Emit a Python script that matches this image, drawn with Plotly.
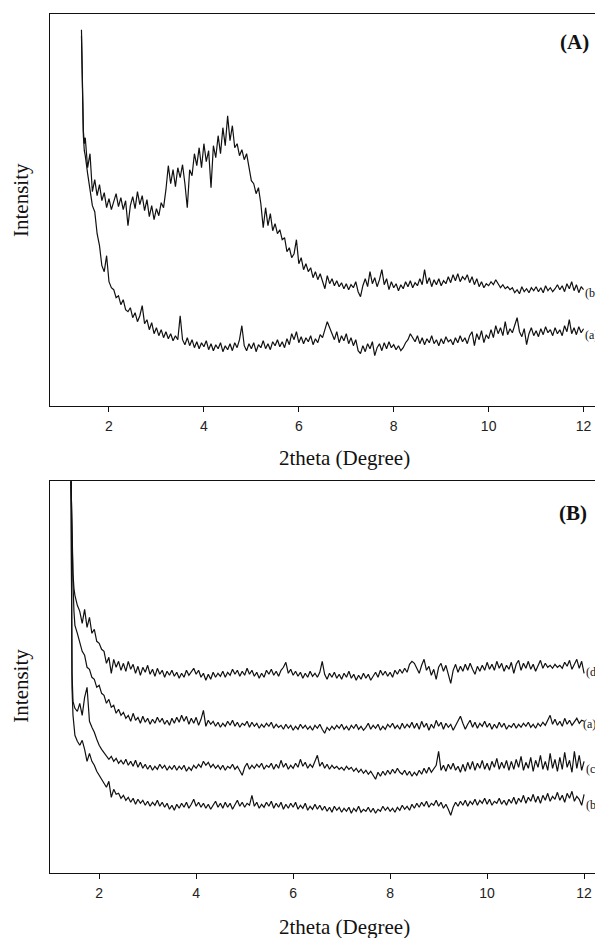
import numpy as np
import plotly.graph_objects as go

# 2theta grid (degree): a few points on the low-angle spike, then 0.05 steps
two_theta = [1.42, 1.44, 1.46, 1.48] + list(np.round(1.50 + 0.05 * np.arange(211), 2))

# panel (A) intensities, arbitrary units
A_b = [376, 320, 275, 262,
       268, 238, 252, 214, 226, 210, 221, 205, 213, 198, 207, 196, 204, 212, 199, 208, 196, 205, 180, 200,
       209, 197, 214, 201, 210, 195, 206, 189, 200, 186, 197, 190, 203, 198, 216, 240, 222, 236, 219, 238,
       228, 241, 222, 198, 236, 230, 252, 240, 258, 238, 262, 244, 255, 218, 260, 248, 270, 252, 278, 260,
       290, 265, 280, 258, 262, 250, 256, 246, 252, 238, 225, 222, 212, 218, 202, 178, 198, 180, 192, 175,
       182, 172, 176, 166, 168, 154, 158, 148, 152, 166, 142, 148, 136, 142, 134, 138, 128, 134, 126, 132,
       124, 117, 130, 122, 127, 120, 125, 119, 123, 117, 122, 116, 121, 118, 124, 114, 109, 120, 127, 119,
       134, 122, 128, 119, 126, 136, 121, 127, 116, 124, 118, 122, 115, 121, 117, 124, 119, 125, 118, 123,
       120, 127, 121, 136, 122, 128, 119, 126, 121, 127, 120, 125, 122, 129, 123, 131, 125, 132, 124, 129,
       126, 131, 123, 129, 121, 127, 119, 124, 118, 122, 120, 124, 121, 126, 122, 118, 121, 117, 119, 116,
       118, 113, 116, 112, 119, 114, 117, 113, 118, 115, 119, 114, 118, 113, 120, 115, 118, 114, 117, 121,
       116, 120, 114, 122, 117, 124, 115, 121, 113, 119, 116]
A_a = [370, 310, 270, 255,
       250, 232, 218, 200, 194, 172, 160, 140, 134, 150, 124, 118, 116, 108, 110, 101, 106, 96, 94, 98,
       88, 93, 84, 90, 100, 82, 86, 76, 83, 72, 78, 70, 76, 68, 74, 67, 72, 65, 70, 66,
       90, 66, 61, 68, 60, 66, 58, 64, 57, 63, 59, 65, 56, 62, 55, 61, 57, 63, 54, 60,
       56, 62, 55, 63, 58, 66, 80, 60, 55, 62, 57, 63, 54, 61, 58, 65, 57, 62, 56, 64,
       60, 66, 59, 64, 58, 67, 61, 72, 66, 74, 63, 69, 62, 68, 64, 70, 61, 67, 63, 71,
       68, 76, 84, 78, 72, 66, 74, 63, 70, 65, 72, 62, 68, 60, 66, 55, 52, 60, 54, 62,
       57, 64, 50, 58, 62, 55, 63, 57, 64, 58, 61, 56, 60, 55, 58, 63, 66, 72, 68, 64,
       70, 62, 68, 61, 67, 63, 70, 62, 66, 60, 67, 62, 69, 64, 66, 61, 68, 63, 70, 64,
       68, 62, 70, 74, 60, 72, 66, 75, 63, 71, 67, 76, 68, 80, 72, 78, 70, 84, 71, 77,
       73, 80, 88, 74, 69, 77, 61, 72, 78, 70, 75, 69, 77, 71, 79, 73, 76, 70, 78, 72,
       76, 70, 80, 74, 86, 72, 78, 71, 79, 73, 77]

# panel (B) intensities, arbitrary units
B_d = [392, 330, 300, 285,
       278, 268, 262, 250, 264, 246, 256, 240, 244, 232, 230, 224, 222, 210, 216, 200, 214, 206, 212, 203,
       210, 202, 212, 204, 209, 200, 207, 198, 206, 201, 208, 199, 204, 197, 205, 199, 203, 196, 202, 198,
       203, 197, 201, 195, 200, 196, 203, 198, 201, 205, 199, 203, 196, 200, 193, 199, 194, 201, 196, 200,
       197, 202, 196, 201, 198, 204, 199, 203, 197, 202, 198, 205, 199, 203, 197, 201, 195, 200, 196, 203,
       199, 204, 198, 202, 197, 203, 206, 211, 200, 204, 198, 202, 197, 201, 195, 200, 196, 202, 197, 200,
       196, 201, 212, 199, 194, 200, 196, 201, 195, 199, 194, 200, 196, 202, 195, 199, 193, 198, 194, 200,
       195, 199, 193, 197, 201, 196, 203, 198, 202, 197, 201, 196, 203, 199, 204, 200, 205, 201, 209, 212,
       210, 205, 200, 208, 214, 203, 207, 198, 204, 194, 206, 210, 202, 208, 199, 190, 203, 209, 201, 207,
       202, 209, 203, 210, 204, 199, 207, 202, 208, 203, 211, 204, 209, 203, 212, 205, 210, 202, 208, 204,
       211, 200, 209, 213, 203, 210, 205, 212, 204, 209, 202, 208, 213, 205, 210, 206, 208, 205, 209, 206,
       208, 205, 211, 207, 213, 204, 210, 214, 205, 212, 200]
B_a = [392, 320, 290, 262,
       248, 240, 230, 222, 218, 206, 204, 196, 194, 186, 188, 180, 178, 170, 174, 166, 168, 160, 164, 158,
       161, 155, 158, 152, 160, 153, 156, 150, 157, 151, 155, 149, 154, 150, 156, 151, 155, 149, 153, 148,
       155, 150, 156, 151, 158, 152, 157, 149, 155, 150, 156, 148, 154, 163, 147, 153, 149, 152, 147, 151,
       146, 150, 147, 152, 148, 153, 147, 151, 146, 150, 148, 152, 146, 151, 147, 150, 145, 149, 146, 150,
       147, 151, 145, 149, 146, 148, 144, 149, 145, 148, 143, 147, 144, 149, 145, 148, 144, 147, 143, 148,
       145, 149, 144, 140, 146, 143, 147, 144, 148, 145, 149, 144, 147, 143, 148, 145, 149, 144, 147, 143,
       146, 150, 144, 148, 145, 149, 143, 147, 144, 149, 146, 150, 145, 148, 144, 150, 145, 149, 146, 151,
       145, 150, 144, 152, 146, 150, 143, 149, 145, 153, 147, 151, 144, 150, 146, 149, 143, 148, 152, 157,
       150, 144, 149, 153, 146, 151, 145, 150, 147, 152, 146, 150, 144, 149, 145, 151, 146, 150, 144, 148,
       146, 150, 145, 149, 146, 150, 147, 151, 146, 149, 145, 150, 147, 151, 148, 153, 158, 149, 154, 148,
       152, 147, 155, 149, 153, 148, 151, 155, 150, 153, 152]
B_c = [392, 200, 172, 168,
       165, 162, 170, 158, 176, 186, 152, 146, 141, 134, 128, 124, 121, 118, 114, 117, 112, 115, 110, 113,
       109, 114, 108, 112, 107, 113, 106, 111, 105, 109, 104, 108, 103, 107, 104, 109, 105, 108, 103, 107,
       104, 108, 103, 107, 104, 108, 102, 106, 103, 108, 105, 109, 106, 112, 108, 111, 106, 109, 105, 108,
       104, 108, 103, 107, 105, 109, 104, 107, 102, 98, 106, 110, 104, 108, 105, 109, 106, 110, 104, 108,
       106, 110, 104, 109, 105, 113, 106, 110, 104, 108, 105, 110, 106, 114, 107, 111, 105, 109, 106, 112,
       118, 107, 111, 105, 109, 104, 108, 105, 107, 104, 106, 103, 107, 104, 106, 102, 105, 101, 104, 100,
       103, 99, 102, 98, 94, 101, 97, 102, 98, 103, 99, 104, 100, 105, 101, 99, 103, 98, 102, 97,
       101, 98, 103, 99, 105, 100, 106, 101, 104, 108, 122, 103, 108, 102, 109, 104, 110, 103, 107, 101,
       109, 102, 111, 104, 112, 103, 110, 105, 113, 104, 110, 103, 112, 106, 115, 104, 111, 105, 113, 103,
       112, 104, 114, 106, 117, 103, 111, 105, 116, 102, 113, 106, 118, 104, 112, 103, 120, 105, 114, 102,
       116, 104, 121, 106, 113, 101, 122, 105, 118, 103, 112]
B_b = [392, 185, 158, 145,
       138, 132, 128, 133, 124, 112, 120, 112, 108, 102, 98, 94, 91, 86, 92, 76, 84, 79, 80, 75,
       78, 73, 76, 71, 75, 69, 74, 70, 73, 68, 72, 67, 71, 68, 73, 67, 71, 66, 70, 64,
       68, 63, 69, 65, 70, 66, 71, 65, 69, 74, 67, 71, 66, 70, 65, 69, 64, 68, 72, 66,
       70, 65, 71, 66, 70, 64, 69, 73, 67, 71, 66, 70, 68, 78, 67, 71, 65, 69, 66, 71,
       67, 72, 65, 70, 66, 71, 64, 69, 65, 70, 66, 71, 64, 68, 65, 70, 63, 67, 64, 69,
       64, 68, 63, 67, 62, 66, 61, 67, 63, 66, 61, 65, 62, 66, 60, 65, 62, 67, 61, 64,
       62, 66, 61, 65, 60, 64, 62, 67, 63, 66, 62, 65, 61, 66, 63, 68, 64, 67, 63, 69,
       65, 70, 66, 71, 67, 72, 66, 70, 68, 73, 67, 71, 65, 69, 64, 58, 66, 71, 67, 72,
       68, 73, 67, 72, 69, 74, 68, 73, 70, 75, 69, 74, 68, 72, 70, 75, 69, 73, 68, 74,
       70, 76, 69, 75, 71, 78, 70, 76, 72, 79, 71, 77, 70, 78, 73, 80, 72, 77, 74, 81,
       73, 78, 71, 80, 75, 82, 72, 77, 74, 68, 79]

tick_vals = [2, 4, 6, 8, 10, 12]
x_title = "2theta (Degree)"
y_title = "Intensity"

# the page body has an 8px margin, so the figure is drawn from (8, 8)
OFF = 8
W, H = 603 - OFF, 938 - OFF
ink = "#111111"
serif = "Liberation Serif, Times New Roman, serif"
sans = "Liberation Sans, Arial, sans-serif"


def py(p):
    # window pixel row -> paper y
    return 1 - (p - OFF) / H


def px(p):
    return (p - OFF) / W


fig = go.Figure()
for ys in [A_b, A_a]:
    fig.add_trace(go.Scatter(x=two_theta, y=ys, mode="lines", line=dict(color=ink, width=1.2),
                             xaxis="x", yaxis="y", showlegend=False, hoverinfo="skip"))
for ys in [B_d, B_a, B_c, B_b]:
    fig.add_trace(go.Scatter(x=two_theta, y=ys, mode="lines", line=dict(color=ink, width=1.2),
                             xaxis="x2", yaxis="y2", showlegend=False, hoverinfo="skip"))

xstyle = dict(showline=True, linecolor=ink, linewidth=1.3, mirror=True, showgrid=False, zeroline=False,
              ticks="outside", ticklen=5, tickwidth=1, tickcolor=ink, tickvals=tick_vals,
              tickfont=dict(family=sans, size=14, color="#222"), ticklabelstandoff=2)
ystyle = dict(showline=True, linecolor=ink, linewidth=1.3, mirror=False, showgrid=False, zeroline=False,
              showticklabels=False, ticks="")

fig.update_layout(
    width=W, height=H, margin=dict(l=0, r=0, t=0, b=0),
    paper_bgcolor="white", plot_bgcolor="white",
    xaxis=dict(xstyle, domain=[px(50), 1], range=[0.757, 12.41], anchor="y"),
    yaxis=dict(ystyle, domain=[py(405.7), py(14)], range=[0, 391.7], anchor="x"),
    xaxis2=dict(xstyle, domain=[px(50), 1], range=[0.986, 12.39], anchor="y2"),
    yaxis2=dict(ystyle, domain=[py(873.3), py(481)], range=[0, 392.3], anchor="x2"),
)

ann = []
for ty, iy in [(458, 200), (927, 685.7)]:
    ann.append(dict(text=x_title, x=px(344), y=py(ty), xref="paper", yref="paper", showarrow=False,
                    xanchor="center", yanchor="middle", font=dict(family=serif, size=21, color=ink)))
    ann.append(dict(text=y_title, x=px(21), y=py(iy), xref="paper", yref="paper", showarrow=False,
                    textangle=-90, xanchor="center", yanchor="middle",
                    font=dict(family=serif, size=21, color=ink)))
for t, x0, y0 in [("(A)", 574.7, 41.7), ("(B)", 573, 512.7)]:
    ann.append(dict(text="<b>" + t + "</b>", x=px(x0), y=py(y0), xref="paper", yref="paper",
                    showarrow=False, xanchor="center", yanchor="middle",
                    font=dict(family=serif, size=21, color=ink)))
for t, x0, y0 in [("(b)", 583, 293), ("(a)", 583, 335), ("(d)", 584, 672), ("(a)", 581, 724),
                  ("(c)", 584, 769), ("(b)", 584, 805)]:
    ann.append(dict(text=t, x=px(x0), y=py(y0), xref="paper", yref="paper", showarrow=False,
                    xanchor="left", yanchor="middle", font=dict(family=serif, size=12, color=ink)))
fig.update_layout(annotations=ann)

fig.write_html("out.html")
